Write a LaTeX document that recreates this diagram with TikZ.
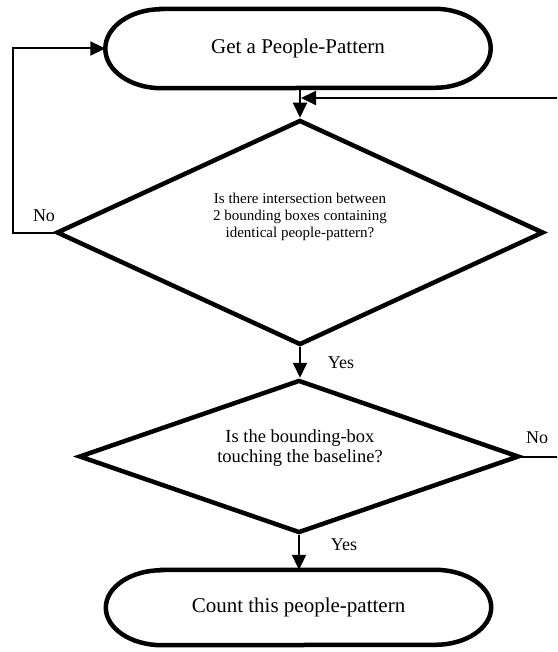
\documentclass[tikz,border=0pt]{standalone}
\usepackage{fontspec}
\setmainfont{Liberation Serif}
\usetikzlibrary{shapes.geometric,arrows.meta,calc}
\tikzset{
  outline/.style={line width=4.5pt, line join=miter},
  termbox/.style={draw=none, minimum width=385pt, minimum height=79pt, inner sep=0pt, font=\fontsize{21}{24}\selectfont},
  diabox/.style={shape=diamond, draw, line width=4.5pt, inner sep=0pt, line join=miter},
  conn/.style={line width=2pt},
  tip/.style={-{Triangle[length=15pt,width=14pt]}},
  lbl/.style={inner sep=0pt, font=\fontsize{18}{20}\selectfont},
}
\newcommand{\termoutline}[2]{%
  \draw[outline] ([xshift=56pt]#1.north west) -- ([xshift=-56pt]#1.north east)
    arc[start angle=90, end angle=-90, x radius=56pt, y radius=#2]
    -- ([xshift=56pt]#1.south west)
    arc[start angle=270, end angle=90, x radius=56pt, y radius=#2] -- cycle;}
\begin{document}
\begin{tikzpicture}[x=1pt,y=-1pt]
\useasboundingbox (0,0) rectangle (557,652);
\clip (0,0) rectangle (557,652);
% terminators
\node[termbox] (t1) at (298,48.5) {Get a People-Pattern};
\termoutline{t1}{39.5pt}
\node[termbox, minimum height=75pt] (t2) at (298.5,607.5) {Count this people-pattern};
\termoutline{t2}{37.5pt}
% decisions
\node[diabox, minimum width=487pt, minimum height=225pt] (d1) at (300,232.5) {};
\node[inner sep=0pt, align=center, font=\fontsize{15}{17}\selectfont] (d1t) at (300,217)
  {Is there intersection between\\2 bounding boxes containing\\identical people-pattern?};
\node[diabox, minimum width=440pt, minimum height=153pt] (d2) at (299,456.5) {};
\node[inner sep=0pt, align=center, font=\fontsize{18.5}{20}\selectfont] (d2t) at (300,448)
  {Is the bounding-box\\touching the baseline?};
% helper coordinates
\coordinate (lf) at (13,0);
\coordinate (rr) at (568,0);
\coordinate (fb) at (301,98);
% connectors
\draw[conn,tip] (d1.north |- t1.south) -- (d1.north);
\draw[conn,tip] (d1.south) -- (d2.north -| d1.south);
\draw[conn,tip] (d2.south) -- (t2.north -| d2.south);
\draw[conn,tip] (d1.west) -- (d1.west -| lf) -- (lf |- t1.west) -- (t1.west);
\draw[conn,tip] (d2.east) -- (d2.east -| rr) -- (rr |- fb) -- (fb);
% labels
\node[lbl] (no1) at (44,216) {No};
\node[lbl] (yes1) at (341,363) {Yes};
\node[lbl] (no2) at (537,438) {No};
\node[lbl] (yes2) at (344,545) {Yes};
\end{tikzpicture}
\end{document}
